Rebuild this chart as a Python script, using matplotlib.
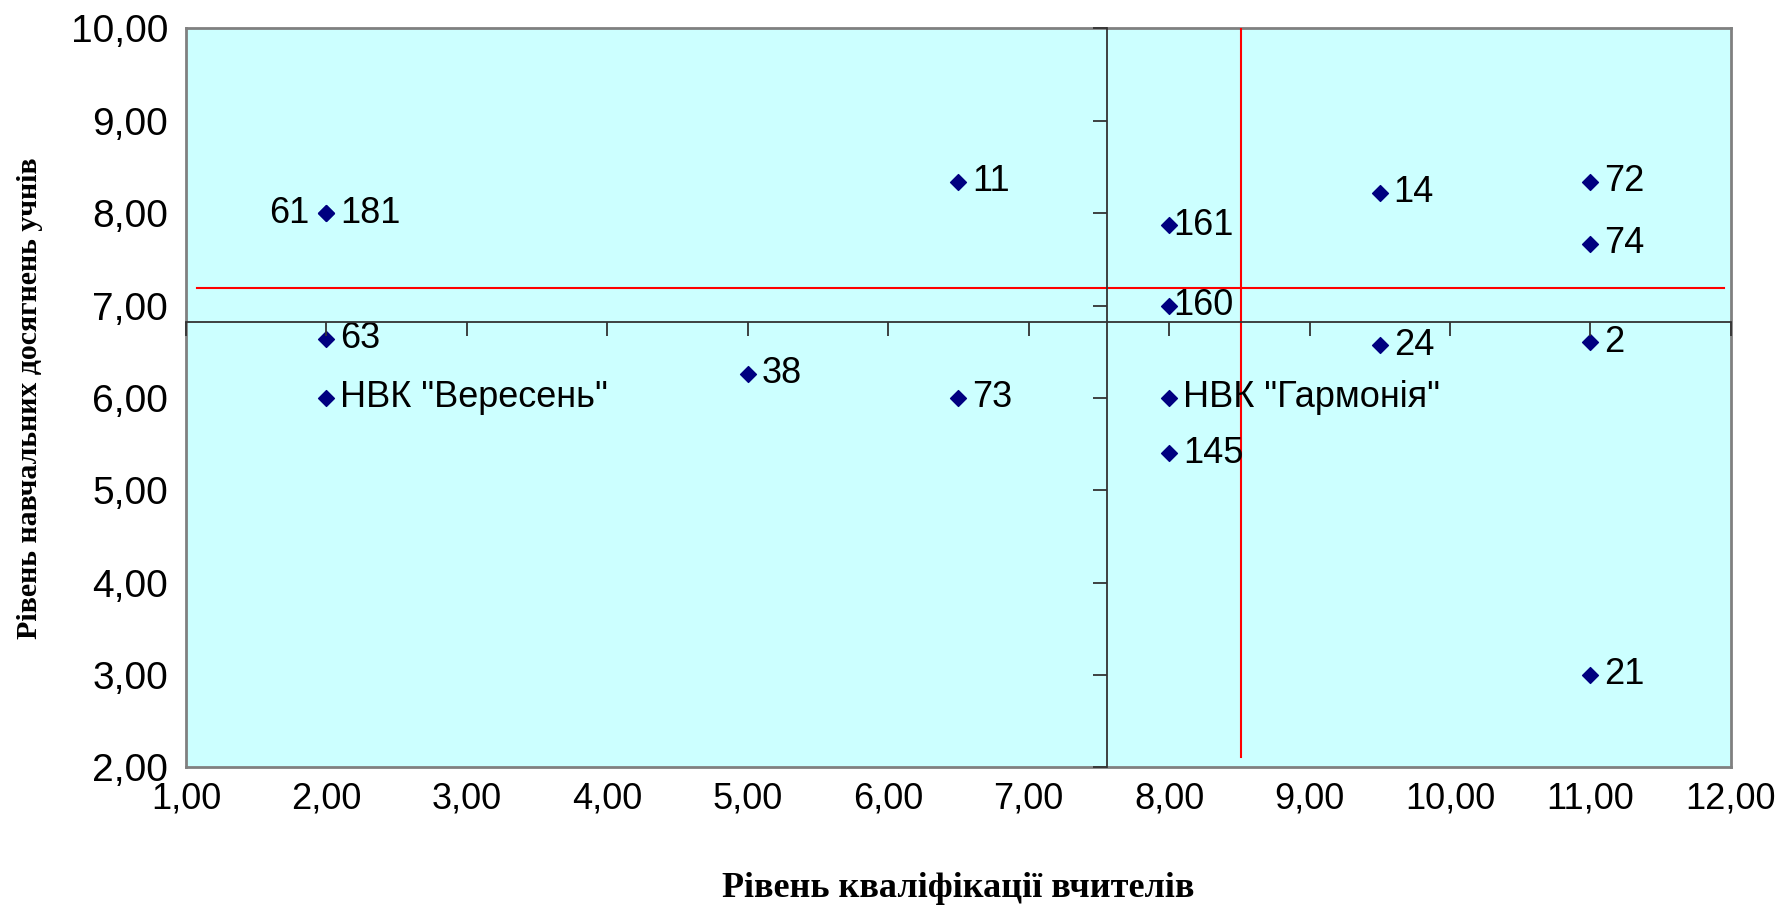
import matplotlib.pyplot as plt
from matplotlib.ticker import FuncFormatter

# Data
x_vals = [2.0, 2.0, 2.0, 2.0, 5.0, 6.5, 6.5, 8.0, 8.0, 8.0, 8.0, 9.5, 9.5, 11.0, 11.0, 11.0, 11.0]
y_vals = [8.0, 8.0, 6.64, 6.0, 6.26, 8.34, 6.0, 7.87, 7.0, 6.0, 5.4, 8.22, 6.57, 8.34, 7.67, 6.6, 3.0]
labels = ['61', '181', '63', 'НВК "Вересень"', '38', '11', '73', '161', '160',
          'НВК "Гармонія"', '145', '14', '24', '72', '74', '2', '21']
# label offsets in points (left label for "61", tight ones for 161/160)
label_dx = [-12, 10, 10, 10, 10, 10, 10, 3, 3, 10, 10, 10, 10, 10, 10, 10, 10]

# axis crossing and the red mean lines
x_cross, y_cross = 7.56, 6.82
x_mean, y_mean = 8.51, 7.19
red_h_span = (1.08, 11.95)
red_v_span = (2.11, 10.0)

x_ticks = list(range(1, 13))
y_ticks = list(range(2, 11))

fig = plt.figure(figsize=(17.89, 9.07), dpi=100)
rect = [0.104, 0.154, 0.8635, 0.8146]
ax = fig.add_axes(rect)
ax.set_facecolor('#CCFFFF')
ax.set_xlim(1, 12)
ax.set_ylim(2, 10)
for sp in ax.spines.values():
    sp.set_color('#808080')
    sp.set_linewidth(2)

fmt = FuncFormatter(lambda v, p: f'{v:.2f}'.replace('.', ','))
ax.set_xticks(x_ticks)
ax.set_yticks(y_ticks)
ax.xaxis.set_major_formatter(fmt)
ax.yaxis.set_major_formatter(fmt)
ax.tick_params(axis='both', length=0)
ax.tick_params(axis='x', labelsize=26, pad=10)
ax.tick_params(axis='y', labelsize=28, pad=13)
for t in ax.get_xticklabels() + ax.get_yticklabels():
    t.set_fontfamily('Liberation Sans')

ax.set_xlabel('Рівень кваліфікації вчителів', fontsize=26, fontweight='bold',
              family='Liberation Serif', labelpad=40)
ax.set_ylabel('Рівень навчальних досягнень учнів', fontsize=21.5, fontweight='bold',
              family='Liberation Serif', labelpad=20)

# crossing axes with tick marks
ax2 = fig.add_axes(rect, sharex=ax, sharey=ax)
ax2.patch.set_visible(False)
ax2.spines['top'].set_visible(False)
ax2.spines['right'].set_visible(False)
ax2.spines['bottom'].set_position(('data', y_cross))
ax2.spines['left'].set_position(('data', x_cross))
ax2.spines['bottom'].set_color('#333333')
ax2.spines['left'].set_color('#333333')
ax2.spines['bottom'].set_linewidth(1.3)
ax2.spines['left'].set_linewidth(1.3)
ax2.tick_params(axis='both', direction='out', length=10, width=1.3, color='#333333',
                labelbottom=False, labelleft=False)

# red lines
ax.plot(red_h_span, [y_mean, y_mean], color='red', lw=1.5, zorder=3)
ax.plot([x_mean, x_mean], red_v_span, color='red', lw=1.5, zorder=3)

ax.scatter(x_vals, y_vals, marker='D', s=65, color='#000080', zorder=4)
for x, y, lab, dx in zip(x_vals, y_vals, labels, label_dx):
    ax.annotate(lab, (x, y), xytext=(dx, 0), textcoords='offset points',
                ha='right' if dx < 0 else 'left', va='center', fontsize=26,
                family='Liberation Sans', zorder=5)

ax.set_xlim(1, 12)
ax.set_ylim(2, 10)
fig.savefig('out.png', dpi=100)
